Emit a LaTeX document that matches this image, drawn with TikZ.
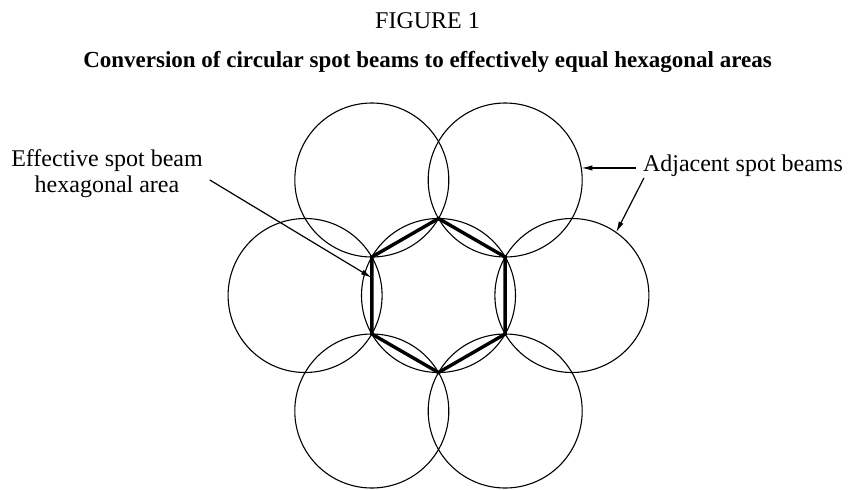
\documentclass[tikz,border=0pt]{standalone}
\usepackage{fontspec}
\setmainfont{Liberation Serif}
\usetikzlibrary{arrows.meta,calc}
\tikzset{beam/.style={draw,circle,minimum size=77pt,inner sep=0pt,outer sep=0pt,line width=.55pt},
  hexline/.style={line width=1.7pt},
  arr/.style={line width=.6pt,-{Latex[length=5.5pt,width=2.6pt]}},
  lbl/.style={font=\fontsize{12}{13}\selectfont,align=center}}
\begin{document}
\begin{tikzpicture}[x=.5pt,y=-.5pt]
\useasboundingbox (0,0) rectangle (848,489);
\node[lbl,anchor=base](fig)at(427.5,28){FIGURE 1};
\node[lbl,anchor=base,font=\fontsize{11.5}{13}\selectfont\bfseries](ttl)at(427.5,67){Conversion of circular spot beams to effectively equal hexagonal areas};
% spot beams
\node[beam](c0)at(438.5,295.5){};
\node[beam](cR)at(571.9,295.5){};
\node[beam](cL)at(305.1,295.5){};
\node[beam](cTR)at(505.2,180){};
\node[beam](cTL)at(371.8,180){};
\node[beam](cBR)at(505.2,411){};
\node[beam](cBL)at(371.8,411){};
% hexagon
\draw[hexline](c0.90)--(c0.30)--(c0.-30)--(c0.-90)--(c0.-150)--(c0.150)--cycle;
% labels
\node[lbl](eff)at(107,174){Effective spot beam\\hexagonal area};
\node[lbl](adj)at(743,166){Adjacent spot beams};
\draw[arr]([yshift=-3pt]eff.east)--($(c0.150)!.27!(c0.-150)$);
\draw[arr](adj.west|-cTR.9)--(cTR.9);
\draw[arr]([xshift=4pt,yshift=3pt]adj.south west)--(cR.55);
\end{tikzpicture}
\end{document}
